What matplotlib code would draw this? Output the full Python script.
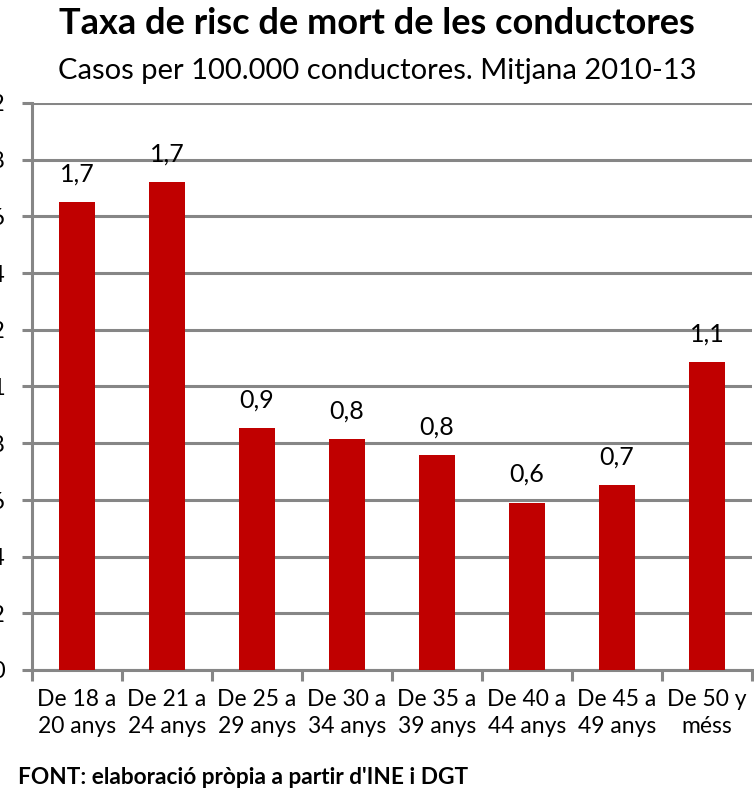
import matplotlib
matplotlib.use("Agg")
import matplotlib.pyplot as plt

categories = ["De 18 a\n20 anys", "De 21 a\n24 anys", "De 25 a\n29 anys", "De 30 a\n34 anys",
              "De 35 a\n39 anys", "De 40 a\n44 anys", "De 45 a\n49 anys", "De 50 y\nméss"]
values = [1.651, 1.722, 0.854, 0.815, 0.758, 0.590, 0.652, 1.086]
yticks = [0, 0.2, 0.4, 0.6, 0.8, 1.0, 1.2, 1.4, 1.6, 1.8, 2.0]

title = "Taxa de risc de mort de les conductores"
subtitle = "Casos per 100.000 conductores. Mitjana 2010-13"
footer = "FONT: elaboració pròpia a partir d'INE i DGT"

plt.rcParams['font.family'] = ['Lato', 'DejaVu Sans']

W, H = 754, 792
fig = plt.figure(figsize=(W / 100, H / 100), dpi=100)
ax = fig.add_axes([32 / W, 1 - 670 / H, (752 - 32) / W, (670 - 103) / H])

x = list(range(len(categories)))
bars = ax.bar(x, values, width=0.41, color="#C00000", zorder=3)
ax.set_xlim(-0.5, len(categories) - 0.5)
ax.set_ylim(0, 2.0)

def fmt(v):
    s = f"{v:.1f}".replace(".", ",")
    if s.endswith(",0"):
        s = s[:-2]
    return s

ax.set_yticks(yticks)
ax.set_yticklabels([fmt(t) for t in yticks], fontsize=17)
ax.yaxis.grid(True, color="#868686", linewidth=2.2, zorder=0)
ax.set_axisbelow(True)

ax.set_xticks(x)
ax.set_xticklabels(categories, fontsize=16.5, linespacing=1.35)
ax.set_xticks([i - 0.5 for i in range(len(categories) + 1)], minor=True)
ax.tick_params(axis='x', which='major', length=0, pad=14)
ax.tick_params(axis='x', which='minor', length=8, width=2.2, color="#868686", direction='out')
ax.tick_params(axis='y', length=7.5, width=2.2, color="#868686", direction='out', pad=12)

for s in ['top', 'right']:
    ax.spines[s].set_visible(False)
for s in ['left', 'bottom']:
    ax.spines[s].set_color("#868686")
    ax.spines[s].set_linewidth(2.2)

for xi, v in zip(x, values):
    ax.annotate(fmt(v), (xi, v), xytext=(0, 12), textcoords='offset points',
                ha='center', va='bottom', fontsize=18, color="black")

fig.text(377 / W, 1 - 24 / H, title, ha='center', va='center', fontsize=26, fontweight='bold')
fig.text(377 / W, 1 - 71 / H, subtitle, ha='center', va='center', fontsize=21)
fig.text(18 / W, 1 - 777 / H, footer, ha='left', va='center', fontsize=16.3, fontweight='bold')

fig.savefig("out.png", dpi=100, facecolor="white")
